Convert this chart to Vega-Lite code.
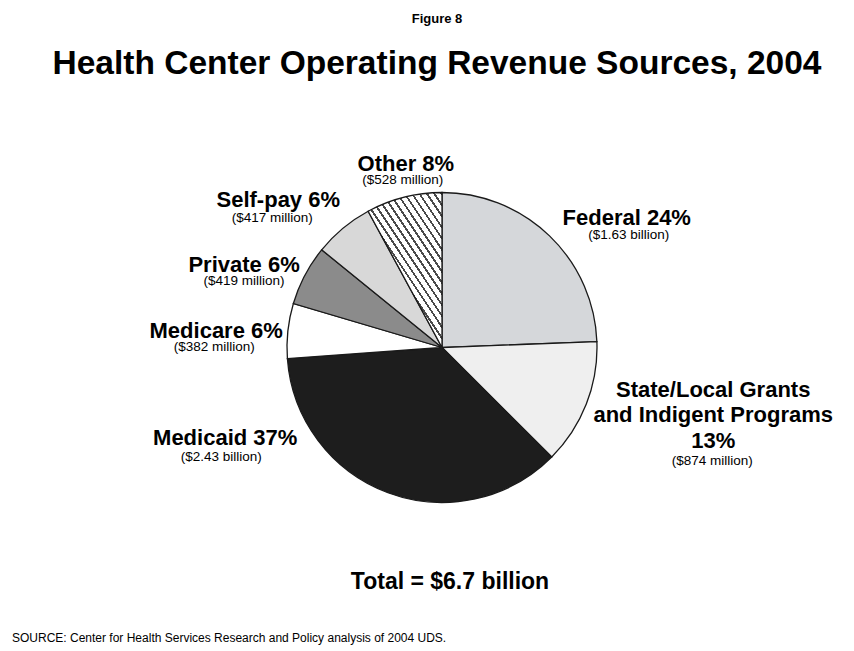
{
  "$schema": "https://vega.github.io/schema/vega-lite/v6.json",
  "autosize": {"type": "none"},
  "width": 824,
  "height": 523,
  "padding": {"left": 30, "top": 86, "right": 0, "bottom": 42},
  "background": "#ffffff",
  "config": {"view": {"stroke": null}, "text": {"font": "Liberation Sans", "color": "#000000"}},
  "title": {
    "text": "Figure 8",
    "subtitle": "Health Center Operating Revenue Sources, 2004",
    "anchor": "middle",
    "frame": "group",
    "dx": -5,
    "offset": -35,
    "font": "Liberation Sans",
    "fontSize": 13,
    "fontWeight": "bold",
    "color": "#000000",
    "subtitleFont": "Liberation Sans",
    "subtitleFontSize": 33.5,
    "subtitleFontWeight": "bold",
    "subtitleColor": "#000000",
    "subtitlePadding": 22
  },
  "data": {
    "values": [
      {"name": "Federal", "label": "Federal 24%", "amount": "($1.63 billion)", "value": 1630, "k": 1},
      {"name": "State/Local", "label": "State/Local Grants\nand Indigent Programs\n13%", "amount": "($874 million)", "value": 874, "k": 2},
      {"name": "Medicaid", "label": "Medicaid 37%", "amount": "($2.43 billion)", "value": 2430, "k": 3},
      {"name": "Medicare", "label": "Medicare 6%", "amount": "($382 million)", "value": 382, "k": 4},
      {"name": "Private", "label": "Private 6%", "amount": "($419 million)", "value": 419, "k": 5},
      {"name": "Self-pay", "label": "Self-pay 6%", "amount": "($417 million)", "value": 417, "k": 6},
      {"name": "Other", "label": "Other 8%", "amount": "($528 million)", "value": 528, "k": 7}
    ]
  },
  "layer": [
    {
      "mark": {"type": "arc", "outerRadius": 155, "stroke": "#1a1a1a", "strokeWidth": 1.3},
      "encoding": {
        "theta": {"field": "value", "type": "quantitative", "stack": true},
        "order": {"field": "k", "type": "quantitative"},
        "fill": {
          "condition": {
            "test": "datum.name === 'Other'",
            "value": {
              "gradient": "linear", "x1": 0.3387, "y1": 0.527, "x2": 0.812, "y2": -0.134,
              "stops": [
                {"offset": 0, "color": "#ffffff"}, {"offset": 0.05, "color": "#ffffff"}, {"offset": 0.05, "color": "#4a4a4a"}, {"offset": 0.0714, "color": "#4a4a4a"},
                {"offset": 0.0714, "color": "#ffffff"}, {"offset": 0.1214, "color": "#ffffff"}, {"offset": 0.1214, "color": "#4a4a4a"}, {"offset": 0.1429, "color": "#4a4a4a"},
                {"offset": 0.1429, "color": "#ffffff"}, {"offset": 0.1929, "color": "#ffffff"}, {"offset": 0.1929, "color": "#4a4a4a"}, {"offset": 0.2143, "color": "#4a4a4a"},
                {"offset": 0.2143, "color": "#ffffff"}, {"offset": 0.2643, "color": "#ffffff"}, {"offset": 0.2643, "color": "#4a4a4a"}, {"offset": 0.2857, "color": "#4a4a4a"},
                {"offset": 0.2857, "color": "#ffffff"}, {"offset": 0.3357, "color": "#ffffff"}, {"offset": 0.3357, "color": "#4a4a4a"}, {"offset": 0.3571, "color": "#4a4a4a"},
                {"offset": 0.3571, "color": "#ffffff"}, {"offset": 0.4071, "color": "#ffffff"}, {"offset": 0.4071, "color": "#4a4a4a"}, {"offset": 0.4286, "color": "#4a4a4a"},
                {"offset": 0.4286, "color": "#ffffff"}, {"offset": 0.4786, "color": "#ffffff"}, {"offset": 0.4786, "color": "#4a4a4a"}, {"offset": 0.5, "color": "#4a4a4a"},
                {"offset": 0.5, "color": "#ffffff"}, {"offset": 0.55, "color": "#ffffff"}, {"offset": 0.55, "color": "#4a4a4a"}, {"offset": 0.5714, "color": "#4a4a4a"},
                {"offset": 0.5714, "color": "#ffffff"}, {"offset": 0.6214, "color": "#ffffff"}, {"offset": 0.6214, "color": "#4a4a4a"}, {"offset": 0.6429, "color": "#4a4a4a"},
                {"offset": 0.6429, "color": "#ffffff"}, {"offset": 0.6929, "color": "#ffffff"}, {"offset": 0.6929, "color": "#4a4a4a"}, {"offset": 0.7143, "color": "#4a4a4a"},
                {"offset": 0.7143, "color": "#ffffff"}, {"offset": 0.7643, "color": "#ffffff"}, {"offset": 0.7643, "color": "#4a4a4a"}, {"offset": 0.7857, "color": "#4a4a4a"},
                {"offset": 0.7857, "color": "#ffffff"}, {"offset": 0.8357, "color": "#ffffff"}, {"offset": 0.8357, "color": "#4a4a4a"}, {"offset": 0.8571, "color": "#4a4a4a"},
                {"offset": 0.8571, "color": "#ffffff"}, {"offset": 0.9071, "color": "#ffffff"}, {"offset": 0.9071, "color": "#4a4a4a"}, {"offset": 0.9286, "color": "#4a4a4a"},
                {"offset": 0.9286, "color": "#ffffff"}, {"offset": 0.9786, "color": "#ffffff"}, {"offset": 0.9786, "color": "#4a4a4a"}, {"offset": 1, "color": "#4a4a4a"}
              ]
            }
          },
          "field": "name",
          "type": "nominal",
          "scale": {
            "domain": ["Federal", "State/Local", "Medicaid", "Medicare", "Private", "Self-pay", "Other"],
            "range": ["#d5d7da", "#efefef", "#1d1d1d", "#ffffff", "#8b8b8b", "#d8d8d8", "#b0b0b0"]
          },
          "legend": null
        }
      }
    },
    {"mark": {"type": "text", "radius": 200, "dx": 46, "dy": 22, "fontSize": 22, "fontWeight": "bold", "align": "center", "baseline": "alphabetic"},
     "encoding": {"theta": {"field": "value", "type": "quantitative", "stack": true}, "order": {"field": "k", "type": "quantitative"},
       "text": {"condition": {"test": "datum.name === 'Federal'", "field": "label"}, "value": ""}}},
    {"mark": {"type": "text", "radius": 200, "dx": 48, "dy": 36, "fontSize": 13.5, "align": "center", "baseline": "alphabetic"},
     "encoding": {"theta": {"field": "value", "type": "quantitative", "stack": true}, "order": {"field": "k", "type": "quantitative"},
       "text": {"condition": {"test": "datum.name === 'Federal'", "field": "amount"}, "value": ""}}},
    {"mark": {"type": "text", "radius": 200, "dx": 85, "dy": -23.5, "fontSize": 22, "fontWeight": "bold", "align": "center", "baseline": "alphabetic", "lineBreak": "\n", "lineHeight": 25.5},
     "encoding": {"theta": {"field": "value", "type": "quantitative", "stack": true}, "order": {"field": "k", "type": "quantitative"},
       "text": {"condition": {"test": "datum.name === 'State/Local'", "field": "label"}, "value": ""}}},
    {"mark": {"type": "text", "radius": 200, "dx": 84, "dy": 44.5, "fontSize": 13.5, "align": "center", "baseline": "alphabetic"},
     "encoding": {"theta": {"field": "value", "type": "quantitative", "stack": true}, "order": {"field": "k", "type": "quantitative"},
       "text": {"condition": {"test": "datum.name === 'State/Local'", "field": "amount"}, "value": ""}}},
    {"mark": {"type": "text", "radius": 200, "dx": -147, "dy": -90, "fontSize": 22, "fontWeight": "bold", "align": "center", "baseline": "alphabetic"},
     "encoding": {"theta": {"field": "value", "type": "quantitative", "stack": true}, "order": {"field": "k", "type": "quantitative"},
       "text": {"condition": {"test": "datum.name === 'Medicaid'", "field": "label"}, "value": ""}}},
    {"mark": {"type": "text", "radius": 200, "dx": -151, "dy": -74, "fontSize": 13.5, "align": "center", "baseline": "alphabetic"},
     "encoding": {"theta": {"field": "value", "type": "quantitative", "stack": true}, "order": {"field": "k", "type": "quantitative"},
       "text": {"condition": {"test": "datum.name === 'Medicaid'", "field": "amount"}, "value": ""}}},
    {"mark": {"type": "text", "radius": 200, "dx": -27, "dy": 12, "fontSize": 22, "fontWeight": "bold", "align": "center", "baseline": "alphabetic"},
     "encoding": {"theta": {"field": "value", "type": "quantitative", "stack": true}, "order": {"field": "k", "type": "quantitative"},
       "text": {"condition": {"test": "datum.name === 'Medicare'", "field": "label"}, "value": ""}}},
    {"mark": {"type": "text", "radius": 200, "dx": -29, "dy": 25, "fontSize": 13.5, "align": "center", "baseline": "alphabetic"},
     "encoding": {"theta": {"field": "value", "type": "quantitative", "stack": true}, "order": {"field": "k", "type": "quantitative"},
       "text": {"condition": {"test": "datum.name === 'Medicare'", "field": "amount"}, "value": ""}}},
    {"mark": {"type": "text", "radius": 200, "dx": -21, "dy": 18, "fontSize": 22, "fontWeight": "bold", "align": "center", "baseline": "alphabetic"},
     "encoding": {"theta": {"field": "value", "type": "quantitative", "stack": true}, "order": {"field": "k", "type": "quantitative"},
       "text": {"condition": {"test": "datum.name === 'Private'", "field": "label"}, "value": ""}}},
    {"mark": {"type": "text", "radius": 200, "dx": -21, "dy": 31, "fontSize": 13.5, "align": "center", "baseline": "alphabetic"},
     "encoding": {"theta": {"field": "value", "type": "quantitative", "stack": true}, "order": {"field": "k", "type": "quantitative"},
       "text": {"condition": {"test": "datum.name === 'Private'", "field": "amount"}, "value": ""}}},
    {"mark": {"type": "text", "radius": 200, "dx": -36, "dy": 13, "fontSize": 22, "fontWeight": "bold", "align": "center", "baseline": "alphabetic"},
     "encoding": {"theta": {"field": "value", "type": "quantitative", "stack": true}, "order": {"field": "k", "type": "quantitative"},
       "text": {"condition": {"test": "datum.name === 'Self-pay'", "field": "label"}, "value": ""}}},
    {"mark": {"type": "text", "radius": 200, "dx": -42, "dy": 28.5, "fontSize": 13.5, "align": "center", "baseline": "alphabetic"},
     "encoding": {"theta": {"field": "value", "type": "quantitative", "stack": true}, "order": {"field": "k", "type": "quantitative"},
       "text": {"condition": {"test": "datum.name === 'Self-pay'", "field": "amount"}, "value": ""}}},
    {"mark": {"type": "text", "radius": 200, "dx": 13, "dy": 17, "fontSize": 22, "fontWeight": "bold", "align": "center", "baseline": "alphabetic"},
     "encoding": {"theta": {"field": "value", "type": "quantitative", "stack": true}, "order": {"field": "k", "type": "quantitative"},
       "text": {"condition": {"test": "datum.name === 'Other'", "field": "label"}, "value": ""}}},
    {"mark": {"type": "text", "radius": 200, "dx": 10, "dy": 30.5, "fontSize": 13.5, "align": "center", "baseline": "alphabetic"},
     "encoding": {"theta": {"field": "value", "type": "quantitative", "stack": true}, "order": {"field": "k", "type": "quantitative"},
       "text": {"condition": {"test": "datum.name === 'Other'", "field": "amount"}, "value": ""}}},
    {"data": {"values": [{"note": "Total = $6.7 billion"}]},
     "mark": {"type": "text", "dx": 8, "dy": 241.5, "fontSize": 23, "fontWeight": "bold", "align": "center", "baseline": "alphabetic"},
     "encoding": {"text": {"field": "note"}}},
    {"data": {"values": [{"note": "SOURCE: Center for Health Services Research and Policy analysis of 2004 UDS."}]},
     "mark": {"type": "text", "dx": -430, "dy": 294, "fontSize": 12, "align": "left", "baseline": "alphabetic"},
     "encoding": {"text": {"field": "note"}}}
  ]
}
